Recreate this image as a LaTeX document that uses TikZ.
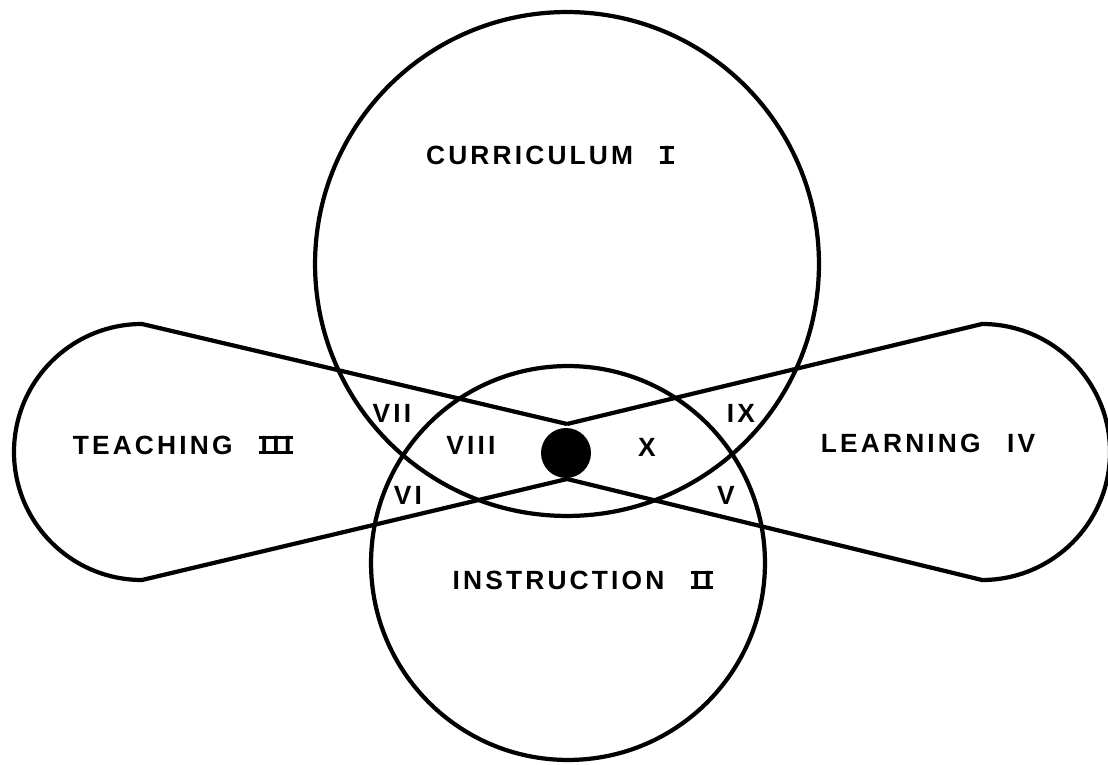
\documentclass[tikz,border=0pt]{standalone}
\usepackage{fontspec}
\setmainfont{Liberation Sans}
\usetikzlibrary{positioning}

% roman numeral with its serifs run together into top and bottom bars
\newcommand\barnum[1]{\setbox0\hbox{\addfontfeatures{LetterSpace=0}#1}%
  \kern1pt\rlap{\kern-1pt\rule[\dimexpr\ht0-1.7pt\relax]{\dimexpr\wd0+2pt\relax}{1.7pt}}%
  \rlap{\kern-1pt\rule{\dimexpr\wd0+2pt\relax}{1.7pt}}\box0\kern1pt}

\begin{document}
\begin{tikzpicture}[x=0.02cm,y=0.02cm,line width=2.4pt,
                    every node/.style={font=\fontsize{15}{18}\bfseries\addfontfeatures{LetterSpace=12}},
                    region/.style={circle,draw,inner sep=0pt},
                    hub/.style={circle,fill,inner sep=0pt,minimum size=1cm}]

  \useasboundingbox (0,0) rectangle (1108,764);

  \node[region,minimum size=10.08cm] (curriculum)  at (567,500) {};
  \node[region,minimum size=7.88cm]  (instruction) at (568,201) {};

  \coordinate (apextop) at (567,340);
  \coordinate (apexbot) at (567,285);
  \coordinate (teachtop) at (142,440);
  \coordinate (learntop) at (982,440);

  \draw (apextop) -- (teachtop) arc[start angle=90,end angle=270,radius=128] -- (apexbot);
  \draw (apextop) -- (learntop) arc[start angle=90,end angle=-90,radius=128] -- (apexbot);

  \node[hub] (hub) at (566,311) {};

  \node (curlabel)   at (550,609) {CURRICULUM\quad\barnum{\kern1pt I\kern1pt}};
  \node (teachlabel) at (183,319) {TEACHING\quad\barnum{I\kern2.5pt I\kern2.5pt I}};
  \node (learnlabel) at (928,321) {LEARNING\quad IV};
  \node (instlabel)  at (583,184) {INSTRUCTION\quad\barnum{I\kern2.5pt I}};

  \node (r7)  at (392,351) {VII};
  \node (r8)  at (471,319) {VIII};
  \node (r10) at (647,317) {X};
  \node (r9)  at (741,351) {IX};
  \node (r6)  at (408,269) {VI};
  \node (r5)  at (726,269) {V};
\end{tikzpicture}
\end{document}
